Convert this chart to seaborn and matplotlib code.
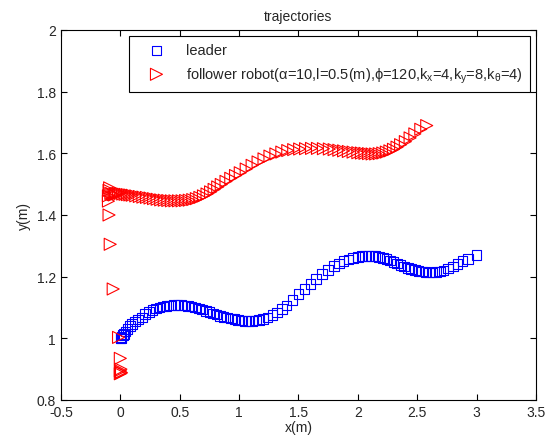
import matplotlib
matplotlib.use("Agg")
import matplotlib.pyplot as plt
import seaborn as sns
import pandas as pd

# leader trajectory
leader_x = [0.0, 0.005, 0.01, 0.02, 0.03, 0.045, 0.06, 0.08, 0.10, 0.125, 0.15, 0.18, 0.21, 0.24,
            0.27, 0.30, 0.33, 0.36, 0.39, 0.42, 0.45, 0.48, 0.51, 0.54, 0.57, 0.60, 0.63, 0.66,
            0.69, 0.72, 0.75, 0.78, 0.81, 0.84, 0.87, 0.90, 0.93, 0.96, 0.99, 1.02, 1.05, 1.08,
            1.11, 1.14, 1.17, 1.20, 1.24, 1.28, 1.32, 1.36, 1.40, 1.45, 1.50, 1.55, 1.60, 1.65,
            1.70, 1.75, 1.80, 1.84, 1.88, 1.92, 1.96, 2.00, 2.03, 2.06, 2.09, 2.12, 2.15, 2.18,
            2.21, 2.24, 2.27, 2.30, 2.33, 2.36, 2.39, 2.42, 2.45, 2.48, 2.51, 2.54, 2.57, 2.60,
            2.63, 2.66, 2.69, 2.72, 2.76, 2.80, 2.84, 2.88, 2.93, 3.00]
leader_y = [1.000, 1.002, 1.005, 1.010, 1.015, 1.022, 1.030, 1.040, 1.046, 1.054, 1.061, 1.068,
            1.078, 1.086, 1.092, 1.097, 1.100, 1.103, 1.105, 1.107, 1.108, 1.108, 1.108, 1.107,
            1.105, 1.103, 1.100, 1.097, 1.093, 1.089, 1.085, 1.081, 1.077, 1.073, 1.070, 1.067,
            1.064, 1.062, 1.060, 1.058, 1.057, 1.057, 1.057, 1.058, 1.060, 1.063, 1.068, 1.075,
            1.084, 1.095, 1.107, 1.125, 1.143, 1.160, 1.176, 1.193, 1.208, 1.222, 1.234, 1.243,
            1.250, 1.256, 1.261, 1.264, 1.266, 1.267, 1.267, 1.267, 1.266, 1.264, 1.261, 1.257,
            1.253, 1.248, 1.243, 1.238, 1.233, 1.229, 1.225, 1.222, 1.219, 1.217, 1.215, 1.214,
            1.214, 1.215, 1.217, 1.220, 1.226, 1.233, 1.242, 1.250, 1.258, 1.270]

# follower trajectory
follower_x = [0.0, 0.005, 0.0, 0.01, 0.005, 0.0, -0.015, -0.06, -0.085, -0.095,
              -0.10, -0.10, -0.095, -0.09, -0.08, -0.07, -0.06, -0.05, -0.04, -0.03, -0.015,
              0.0, 0.02, 0.04, 0.06, 0.08, 0.10, 0.13, 0.16, 0.19, 0.22, 0.25, 0.28, 0.31,
              0.34, 0.37, 0.40, 0.43, 0.46, 0.49, 0.52, 0.55, 0.58, 0.61, 0.64, 0.67, 0.70,
              0.73, 0.76, 0.79, 0.82, 0.85, 0.89, 0.93, 0.97, 1.01, 1.06, 1.11, 1.16, 1.21,
              1.26, 1.31, 1.36, 1.41, 1.46, 1.51, 1.56, 1.61, 1.66, 1.71, 1.76, 1.80, 1.84,
              1.88, 1.92, 1.96, 2.00, 2.03, 2.06, 2.09, 2.12, 2.15, 2.18, 2.21, 2.24, 2.27,
              2.30, 2.33, 2.36, 2.40, 2.44, 2.48, 2.53, 2.58]
follower_y = [0.885, 0.890, 0.895, 0.888, 0.900, 0.935, 1.003, 1.160, 1.305, 1.400,
              1.445, 1.462, 1.480, 1.488, 1.470, 1.468, 1.466, 1.465, 1.468, 1.470, 1.470,
              1.470, 1.468, 1.467, 1.466, 1.465, 1.464, 1.462, 1.460, 1.458, 1.457, 1.455,
              1.453, 1.451, 1.449, 1.448, 1.447, 1.446, 1.446, 1.446, 1.446, 1.447, 1.448,
              1.450, 1.453, 1.457, 1.462, 1.468, 1.475, 1.483, 1.491, 1.499, 1.509, 1.519,
              1.528, 1.537, 1.549, 1.561, 1.572, 1.582, 1.591, 1.598, 1.604, 1.609, 1.612,
              1.614, 1.615, 1.616, 1.616, 1.615, 1.614, 1.612, 1.610, 1.608, 1.606, 1.604,
              1.602, 1.601, 1.600, 1.599, 1.598, 1.598, 1.599, 1.601, 1.604, 1.608, 1.613,
              1.620, 1.628, 1.638, 1.650, 1.663, 1.678, 1.690]

leader_label = 'leader'
follower_label = (r'follower robot($\alpha$=10,l=0.5(m),$\phi$=120,'
                  r'k$_x$=4,k$_y$=8,k$_\theta$=4)')

sns.set_style('ticks')
plt.rcParams['font.family'] = ['Liberation Sans', 'DejaVu Sans']
plt.rcParams['mathtext.fontset'] = 'custom'
plt.rcParams['mathtext.rm'] = 'Liberation Sans'
plt.rcParams['mathtext.it'] = 'Liberation Sans'
plt.rcParams['xtick.direction'] = 'in'
plt.rcParams['ytick.direction'] = 'in'

leader = pd.DataFrame({'x': leader_x, 'y': leader_y})
follower = pd.DataFrame({'x': follower_x, 'y': follower_y})

fig = plt.figure(figsize=(5.54, 4.39), dpi=100)
ax = fig.add_axes([0.110, 0.0866, 0.8575, 0.8428])

sns.scatterplot(data=leader, x='x', y='y', marker='s', s=48, facecolor='none',
                edgecolor='blue', linewidth=0.8, color='blue', label=leader_label, ax=ax)
sns.scatterplot(data=follower, x='x', y='y', marker='>', s=75, facecolor='none',
                edgecolor='red', linewidth=0.8, color='red', label=follower_label, ax=ax)

ax.set_xlim(-0.5, 3.5)
ax.set_ylim(0.8, 2.0)
ax.set_xticks([-0.5, 0, 0.5, 1, 1.5, 2, 2.5, 3, 3.5])
ax.set_xticklabels(['-0.5', '0', '0.5', '1', '1.5', '2', '2.5', '3', '3.5'])
ax.set_yticks([0.8, 1, 1.2, 1.4, 1.6, 1.8, 2])
ax.set_yticklabels(['0.8', '1', '1.2', '1.4', '1.6', '1.8', '2'])
ax.tick_params(axis='both', which='major', labelsize=10, length=4, width=0.8,
               top=True, right=True, color='black')
for sp in ax.spines.values():
    sp.set_visible(True)
    sp.set_color('black')
    sp.set_linewidth(0.8)

ax.set_title('trajectories', fontsize=10, pad=7)
ax.set_xlabel('x(m)', fontsize=10, labelpad=1)
ax.set_ylabel('y(m)', fontsize=10, labelpad=4)

leg = ax.legend(loc='upper right', bbox_to_anchor=(0.987, 0.984), fontsize=10.5,
                fancybox=False, edgecolor='black', framealpha=1, borderpad=0.5,
                handlelength=2.8, handletextpad=0.6, labelspacing=0.55, borderaxespad=0)
leg.get_frame().set_linewidth(0.8)

fig.savefig('out.png', dpi=100)
